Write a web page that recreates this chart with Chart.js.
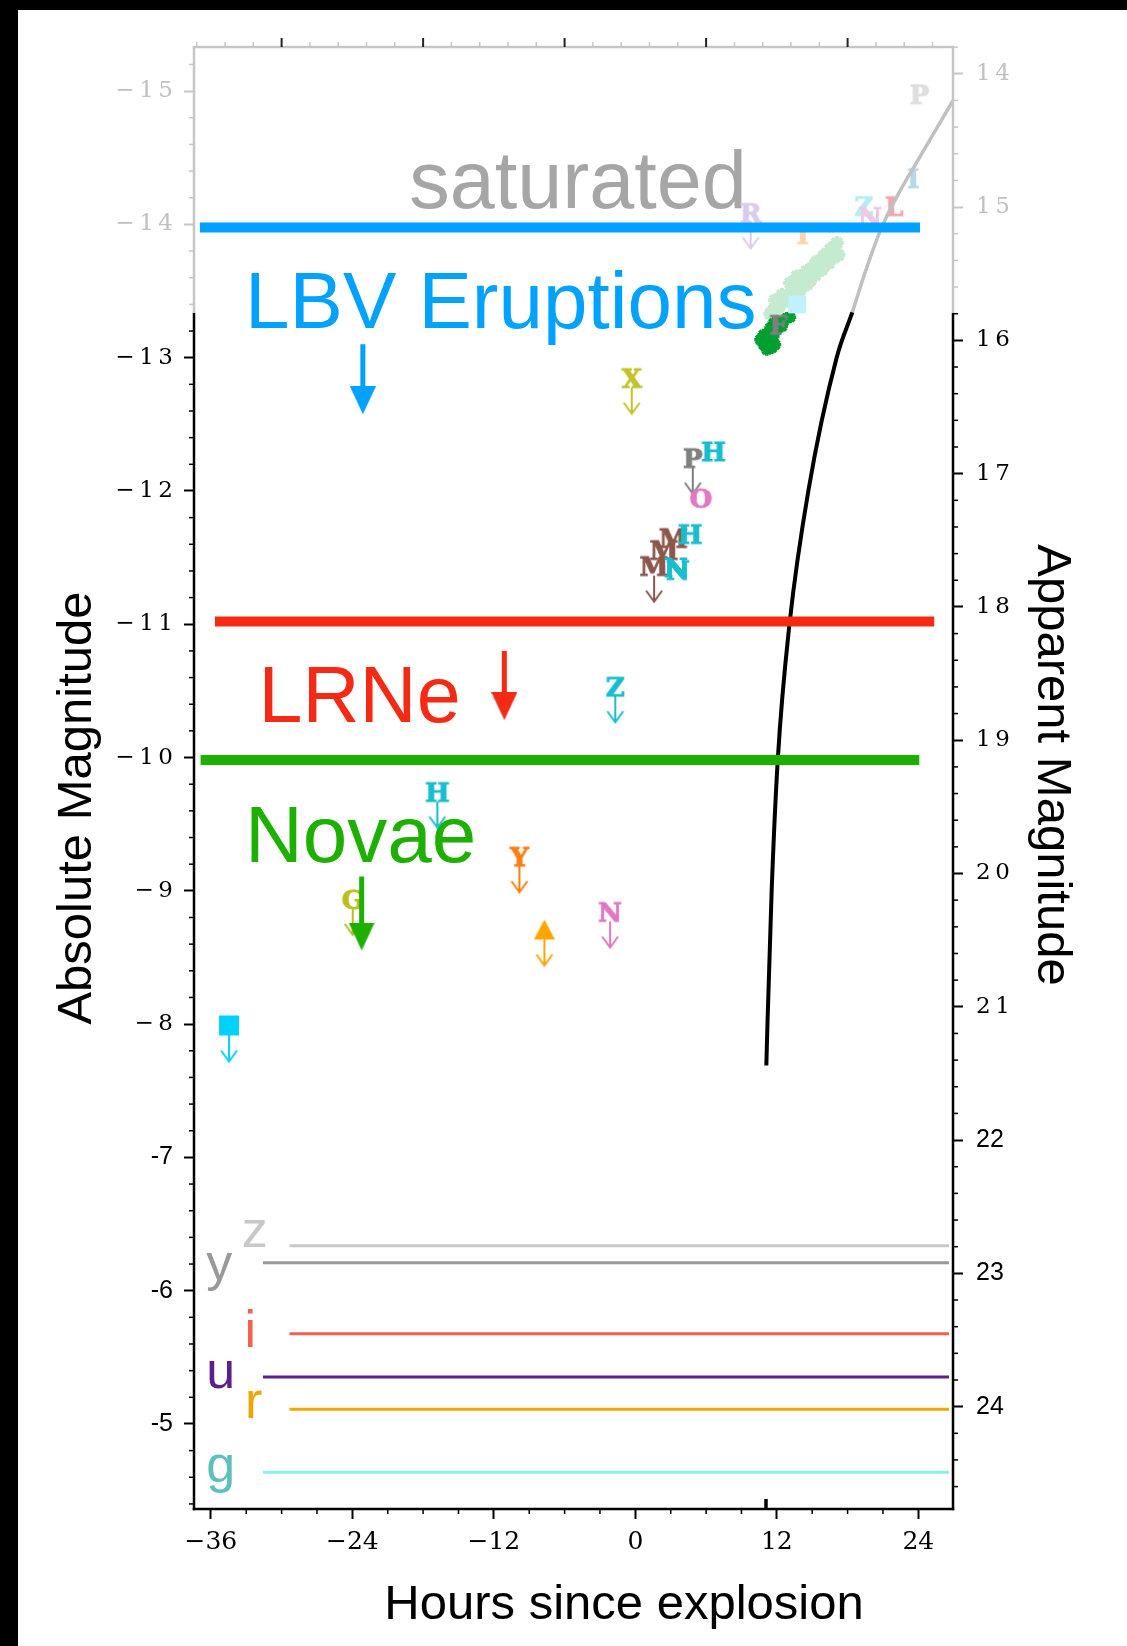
<!DOCTYPE html>
<html>
<head>
<meta charset="utf-8">
<script src="https://cdn.jsdelivr.net/npm/chart.js@4.4.1/dist/chart.umd.min.js"></script>
<style>
  html, body { margin: 0; padding: 0; background: #fff; }
  #wrap { position: relative; width: 1127px; height: 1646px; }
</style>
</head>
<body>
<div id="wrap"><canvas id="mag-chart"></canvas></div>
<script>
// ---- values ----
const hourTicks = [-36, -24, -12, 0, 12, 24];
const absMagTicks = [-15, -14, -13, -12, -11, -10, -9, -8, -7, -6, -5];
const appMagTicks = [14, 15, 16, 17, 18, 19, 20, 21, 22, 23, 24];
const distanceModulus = 29.13;
const saturationMag = -13.336;

// transient classes: peak level and its arrow
const classNames = ['LBV Eruptions', 'LRNe', 'Novae'];
const classLevel = [-13.976, -11.02, -9.982];
const classStart = [-36.93, -35.65, -36.87];
const classEnd = [24.14, 25.35, 24.08];
const classArrowHour = [-23.11, -11.11, -23.21];
const classArrowTop = [-13.10, -10.80, -9.107];
const classArrowTip = [-12.575, -10.28, -8.552];

// model light curve (black below saturation, grey above)
const curveHours = [11.11, 11.2, 11.56, 12.09, 13.07, 14.67, 17.07, 18.4];
const curveMag = [-7.69, -7.99, -9.0, -10.0, -11.0, -12.0, -13.0, -13.34];
const satCurveHours = [18.4, 19.6, 20.9, 22.5, 24.16, 26.94];
const satCurveMag = [-13.34, -13.67, -13.98, -14.26, -14.51, -14.93];

// survey depths per filter
const filterNames = ['z', 'y', 'i', 'u', 'r', 'g'];
const filterDepth = [-6.337, -6.209, -5.677, -5.352, -5.110, -4.637];
const filterStart = [-29.33, -31.58, -29.33, -31.58, -29.33, -31.58];
const filterEnd = [26.6, 26.6, 26.6, 26.6, 26.6, 26.6];

// dense photometry
const lightGreenHours = [11.72, 12.14, 12.57, 12.99, 13.28, 13.42, 13.84, 14.12, 14.26, 14.55, 14.97, 15.25, 15.40, 15.82, 15.96, 16.24, 16.53, 16.81, 17.09, 17.23, 16.81, 16.39, 15.82, 15.25, 14.83, 14.55, 13.98, 13.42, 12.85, 12.29, 11.44, 11.86, 12.43, 13.13, 13.70];
const lightGreenMag = [-13.36, -13.38, -13.42, -13.45, -13.50, -13.53, -13.56, -13.58, -13.62, -13.65, -13.67, -13.70, -13.72, -13.73, -13.76, -13.78, -13.81, -13.83, -13.86, -13.77, -13.75, -13.71, -13.66, -13.62, -13.58, -13.55, -13.51, -13.47, -13.43, -13.40, -13.33, -13.43, -13.47, -13.56, -13.61];
const darkGreenHours = [10.59, 10.87, 11.01, 11.30, 11.44, 11.72, 12.00, 11.44, 11.72, 12.00, 12.43, 12.57, 12.85, 13.13, 11.15, 11.58, 11.86, 10.87];
const darkGreenMag = [-13.134, -13.097, -13.159, -13.184, -13.222, -13.259, -13.272, -13.122, -13.159, -13.209, -13.234, -13.272, -13.297, -13.304, -13.059, -13.072, -13.097, -13.172];

// faded points in the saturated zone
const faintLabels = ['P', 'I', 'L', 'Z', 'N', 'R', 'T', '■', 'F'];
const faintHours = [24.09, 23.56, 21.96, 19.38, 19.9, 9.78, 14.2, 13.73, 12.14];
const faintMag = [-14.98, -14.35, -14.14, -14.14, -14.06, -14.09, -13.93, -13.40, -13.25];
const faintIsLimit = [false, false, false, false, false, true, false, false, false];

// other detections / upper limits
const pointLabels = ['X', 'P', 'H', 'O', 'M', 'M', 'M', 'H', 'N', 'N', 'Z', 'H', 'Y', 'N', '▲', 'G', '■'];
const pointHours = [-0.31, 4.87, 6.62, 5.55, 3.23, 2.44, 1.59, 4.64, 3.45, 3.62, -1.7, -16.79, -9.83, -2.14, -7.71, -23.97, -34.46];
const pointMag = [-12.85, -12.25, -12.30, -11.95, -11.65, -11.56, -11.44, -11.68, -11.43, -11.41, -10.535, -9.745, -9.26, -8.845, -8.71, -8.94, -7.99];
const pointIsLimit = [true, true, false, false, false, false, true, false, false, false, true, true, true, true, true, true, true];

const tickMarkHours = [11.08, 11.08];
const tickMarkMag = [-4.437, -4.362];

// ---- styles ----
const classColors = ['#00A2FF', '#F42A15', '#1EB000'];
const filterLineColors = ['#C8C8C8', '#999999', '#F4604C', '#5C1F8C', '#F0A800', '#8DF0EB'];
const filterTextColors = ['#C8C8C8', '#999999', '#F4604C', '#5C1F8C', '#F0A500', '#5BC0BE'];
const faintColors = ['#DEDEDE', '#B3DBEA', '#F7A3AB', '#B3EEF4', '#F5C5E6', '#DBCBEA', '#FFD3AF', '#C1F1FA', '#7F7F7F'];
const pointColors = ['#C2C22A', '#7F7F7F', '#17BECF', '#E377C2', '#8C564B', '#8C564B', '#8C564B', '#17BECF', '#17BECF', '#17BECF', '#17BECF', '#17BECF', '#FF7F0E', '#E377C2', '#FFA500', '#BCBD22', '#00D2FF'];
const frameGrey = '#C6C6C6';

// text placed in data coordinates
const bigLabels = [
  { text: 'saturated', h: -4.86, m: -14.122, size: 81, align: 'center', color: '#A6A6A6' },
  { text: classNames[0], h: -33.1, m: -13.224, size: 80, align: 'left', color: classColors[0] },
  { text: classNames[1], h: -31.95, m: -10.267, size: 79, align: 'left', color: classColors[1] },
  { text: classNames[2], h: -33.1, m: -9.219, size: 80, align: 'left', color: classColors[2] },
];
const filterLabelHour = [-33.38, -36.4, -33.15, -36.4, -33.1, -36.4];
const filterLabelMag = [-6.33, -6.08, -5.579, -5.267, -5.042, -4.566];

function xy(hours, mags) {
  return hours.map((h, i) => ({ x: h, y: mags[i] }));
}

function makeMarker(sym, color, limit, size) {
  const c = document.createElement('canvas');
  c.width = 44;
  c.height = 80;
  const g = c.getContext('2d');
  const cx = 22, cy = 40;
  g.fillStyle = color;
  g.strokeStyle = color;
  if (sym === '■') {
    const s = size || 20;
    g.fillRect(cx - s / 2, cy - s / 2, s, s);
  } else if (sym === '▲') {
    g.beginPath();
    g.moveTo(cx - 10.5, cy + 10);
    g.lineTo(cx + 10.5, cy + 10);
    g.lineTo(cx, cy - 10);
    g.closePath();
    g.fill();
  } else {
    g.font = 'bold 26px "DejaVu Serif"';
    g.textAlign = 'center';
    g.textBaseline = 'alphabetic';
    g.lineWidth = 1;
    g.fillText(sym, cx, cy + 9.5);
    g.strokeText(sym, cx, cy + 9.5);
  }
  if (limit) {
    g.lineWidth = 2;
    g.beginPath();
    g.moveTo(cx, cy + 10);
    g.lineTo(cx, cy + 36);
    g.moveTo(cx - 8, cy + 25);
    g.lineTo(cx, cy + 36);
    g.lineTo(cx + 8, cy + 25);
    g.stroke();
  }
  return c;
}

function makeHead(color) {
  const c = document.createElement('canvas');
  c.width = 26;
  c.height = 56;
  const g = c.getContext('2d');
  g.fillStyle = color;
  g.beginPath();
  g.moveTo(0, 0);
  g.lineTo(26, 0);
  g.lineTo(13, 28);
  g.closePath();
  g.fill();
  return c;
}

const datasets = [];

// class levels
classNames.forEach((name, i) => {
  datasets.push({
    type: 'line', label: name,
    data: [{ x: classStart[i], y: classLevel[i] }, { x: classEnd[i], y: classLevel[i] }],
    borderColor: classColors[i], borderWidth: 10, pointRadius: 0, order: 10,
  });
  datasets.push({
    type: 'line', label: name + ' arrow',
    data: [{ x: classArrowHour[i], y: classArrowTop[i] }, { x: classArrowHour[i], y: classArrowTip[i] - 0.17 }],
    borderColor: classColors[i], borderWidth: 5, pointRadius: 0, order: 2,
  });
});
datasets.push({
  label: 'arrow heads',
  data: xy(classArrowHour, classArrowTip),
  pointStyle: classColors.map(makeHead), pointRadius: 5, order: 1,
});

// filter depths
filterNames.forEach((f, i) => {
  datasets.push({
    type: 'line', label: f,
    data: [{ x: filterStart[i], y: filterDepth[i] }, { x: filterEnd[i], y: filterDepth[i] }],
    borderColor: filterLineColors[i], borderWidth: 3, pointRadius: 0, order: 15,
  });
});

// model curve
datasets.push({
  type: 'line', label: 'model',
  data: xy(curveHours, curveMag),
  borderColor: '#000', borderWidth: 4, pointRadius: 0, cubicInterpolationMode: 'monotone', order: 20,
});
datasets.push({
  type: 'line', label: 'model (saturated)',
  data: xy(satCurveHours, satCurveMag),
  borderColor: '#C0C0C0', borderWidth: 3.5, pointRadius: 0, cubicInterpolationMode: 'monotone', order: 20,
});
datasets.push({
  type: 'line', label: 'tick',
  data: xy(tickMarkHours, tickMarkMag),
  borderColor: '#000', borderWidth: 3.5, pointRadius: 0, order: 20,
});

// photometry bands
datasets.push({
  label: 'light green',
  data: xy(lightGreenHours, lightGreenMag),
  pointStyle: 'star', pointRadius: 7, borderWidth: 4, borderColor: '#C4EACF', backgroundColor: '#C4EACF', order: 70,
});
datasets.push({
  label: 'dark green',
  data: xy(darkGreenHours, darkGreenMag),
  pointStyle: 'star', pointRadius: 6, borderWidth: 3.5, borderColor: '#00A030', backgroundColor: '#00A030', order: 69,
});

// letters
datasets.push({
  label: 'faint',
  data: xy(faintHours, faintMag),
  pointStyle: faintLabels.map((s, i) => makeMarker(s, faintColors[i], faintIsLimit[i], 18)),
  pointRadius: 5, order: 60,
});
datasets.push({
  label: 'points',
  data: xy(pointHours, pointMag),
  pointStyle: pointLabels.map((s, i) => makeMarker(s, pointColors[i], pointIsLimit[i], 20)),
  pointRadius: 5, order: 3,
});

function seg(ctx, x1, y1, x2, y2, color, w) {
  ctx.beginPath();
  ctx.moveTo(x1, y1);
  ctx.lineTo(x2, y2);
  ctx.strokeStyle = color;
  ctx.lineWidth = w;
  ctx.stroke();
}

const annotations = {
  id: 'annotations',
  beforeDatasetsDraw(chart) {
    const { ctx, scales: { x, y } } = chart;
    ctx.save();
    ctx.textBaseline = 'alphabetic';
    bigLabels.forEach(l => {
      ctx.font = l.size + 'px "Liberation Sans"';
      ctx.fillStyle = l.color;
      ctx.textAlign = l.align;
      ctx.fillText(l.text, x.getPixelForValue(l.h), y.getPixelForValue(l.m));
    });
    ctx.font = '52px "Liberation Sans"';
    ctx.textAlign = 'left';
    filterNames.forEach((f, i) => {
      ctx.fillStyle = filterTextColors[i];
      ctx.fillText(f, x.getPixelForValue(filterLabelHour[i]), y.getPixelForValue(filterLabelMag[i]));
    });
    ctx.restore();
  },
  afterDraw(chart) {
    const { ctx, chartArea: a, scales: { x, y, y2 } } = chart;
    const sy = y.getPixelForValue(saturationMag);
    ctx.save();
    // spines
    seg(ctx, a.left, a.top, a.left, sy, frameGrey, 2.5);
    seg(ctx, a.left, sy, a.left, a.bottom + 1.25, '#000', 2.5);
    seg(ctx, a.right, a.top, a.right, sy, frameGrey, 2.5);
    seg(ctx, a.right, sy, a.right, a.bottom + 1.25, '#000', 2.5);
    seg(ctx, a.left - 1.25, a.top, a.right + 1.25, a.top, frameGrey, 2.5);
    seg(ctx, a.left - 1.25, a.bottom, a.right + 1.25, a.bottom, '#000', 2.5);
    // minor ticks
    for (let k = -76; k <= -22; k++) {
      if (k % 5 === 0) continue;
      const p = y.getPixelForValue(k / 5);
      seg(ctx, a.left - 5, p, a.left, p, p < sy ? frameGrey : '#000', 1.5);
    }
    for (let k = 69; k <= 123; k++) {
      if (k % 5 === 0) continue;
      const p = y2.getPixelForValue(k / 5);
      seg(ctx, a.right, p, a.right + 5, p, p < sy ? frameGrey : '#000', 1.5);
    }
    for (let h = -33; h <= 24; h += 3) {
      if (h % 12 === 0) continue;
      const p = x.getPixelForValue(h);
      seg(ctx, p, a.bottom, p, a.bottom + 5, '#000', 1.5);
    }
    for (let k = 0; k <= 26; k++) {
      const p = x.getPixelForValue(-37.2 + 2.4 * k);
      if (p > a.right) break;
      if (k % 5 === 3) seg(ctx, p, a.top - 9, p, a.top, '#222', 2);
      else seg(ctx, p, a.top - 5, p, a.top, frameGrey, 1.5);
    }
    // axis titles
    ctx.fillStyle = '#000';
    ctx.font = '49px "Liberation Sans"';
    ctx.textAlign = 'center';
    ctx.textBaseline = 'alphabetic';
    ctx.fillText('Hours since explosion', 624, 1619);
    ctx.save();
    ctx.translate(91, 808);
    ctx.rotate(-Math.PI / 2);
    ctx.fillText('Absolute Magnitude', 0, 0);
    ctx.restore();
    ctx.save();
    ctx.translate(1038, 765);
    ctx.rotate(Math.PI / 2);
    ctx.fillText('Apparent Magnitude', 0, 0);
    ctx.restore();
    // black page edges
    ctx.fillStyle = '#000';
    ctx.fillRect(0, 0, 1127, 10);
    ctx.fillRect(0, 0, 18, 1646);
    ctx.restore();
  },
};

const spaced = s => s.split('').join('\u2009');
const serifTick = { family: 'DejaVu Serif', size: 23 };
const sansTick = { family: 'Liberation Sans', size: 25 };

new Chart(document.getElementById('mag-chart'), {
  type: 'scatter',
  data: { datasets },
  options: {
    responsive: true,
    maintainAspectRatio: false,
    devicePixelRatio: 1,
    animation: false,
    layout: { padding: { top: 47, left: 0, right: 0, bottom: 0 } },
    plugins: { legend: { display: false }, tooltip: { enabled: false } },
    scales: {
      x: {
        type: 'linear', position: 'bottom', min: -37.43, max: 26.94,
        afterBuildTicks: s => { s.ticks = hourTicks.map(v => ({ value: v })); },
        afterFit: s => { s.height = 137; },
        border: { display: false },
        grid: { drawOnChartArea: false, drawTicks: true, tickLength: 10, tickWidth: 2, tickColor: '#000' },
        ticks: {
          autoSkip: false, maxRotation: 0, padding: 8, color: '#000',
          font: { family: 'DejaVu Serif', size: 25 },
          callback: v => (v < 0 ? '\u2212' + (-v) : String(v)),
        },
      },
      y: {
        type: 'linear', position: 'left', reverse: true, min: -15.331, max: -4.362,
        afterBuildTicks: s => { s.ticks = absMagTicks.map(v => ({ value: v })); },
        afterFit: s => { s.width = 194; },
        border: { display: false },
        grid: {
          drawOnChartArea: false, drawTicks: true, tickLength: 10, tickWidth: 2,
          tickColor: c => (c.tick && c.tick.value <= -14 ? frameGrey : '#000'),
        },
        ticks: {
          autoSkip: false, padding: 11,
          color: c => (c.tick && c.tick.value <= -14 ? '#C0C0C0' : '#000'),
          font: c => (c.tick && c.tick.value > -8 ? sansTick : serifTick),
          callback: v => (v > -8 ? '-' + (-v) : '\u2212\u2009' + spaced(String(-v))),
        },
      },
      y2: {
        type: 'linear', position: 'right', reverse: true,
        min: -15.331 + distanceModulus, max: -4.362 + distanceModulus,
        afterBuildTicks: s => { s.ticks = appMagTicks.map(v => ({ value: v })); },
        afterFit: s => { s.width = 174; },
        border: { display: false },
        grid: {
          drawOnChartArea: false, drawTicks: true, tickLength: 10, tickWidth: 2,
          tickColor: c => (c.tick && c.tick.value <= 15 ? frameGrey : '#000'),
        },
        ticks: {
          autoSkip: false, padding: 13,
          color: c => (c.tick && c.tick.value <= 15 ? '#C0C0C0' : '#000'),
          font: c => (c.tick && c.tick.value >= 22 ? sansTick : serifTick),
          callback: v => (v >= 22 ? String(v) : spaced(String(v))),
        },
      },
    },
  },
  plugins: [annotations],
});
</script>
</body>
</html>
